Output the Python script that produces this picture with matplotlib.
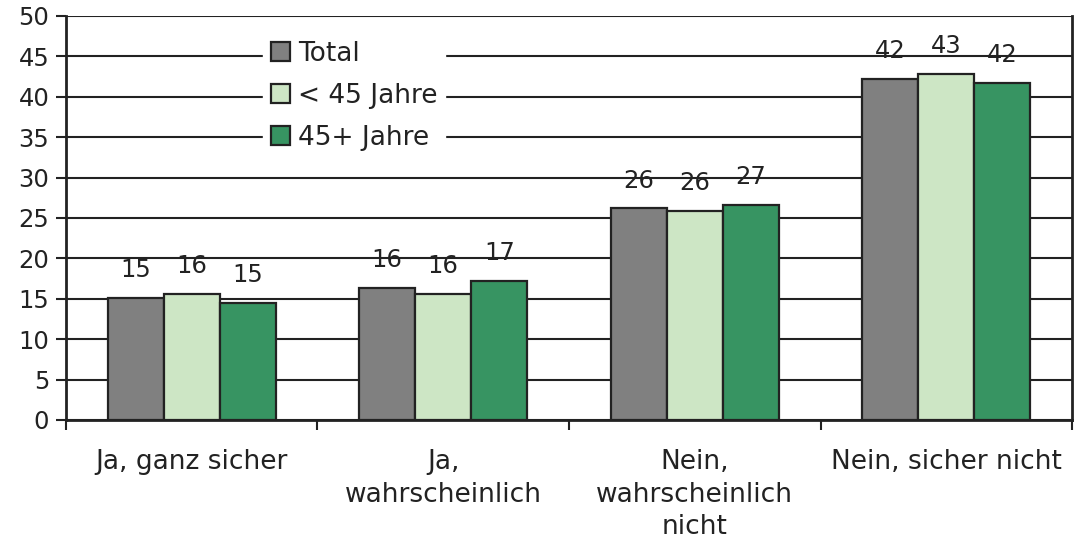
import matplotlib.pyplot as plt
import numpy as np

categories = ['Ja, ganz sicher', 'Ja,\nwahrscheinlich', 'Nein,\nwahrscheinlich\nnicht', 'Nein, sicher nicht']
series = ['Total', '< 45 Jahre', '45+ Jahre']
total = [15.1, 16.3, 26.2, 42.2]
young = [15.6, 15.6, 25.9, 42.8]
older = [14.5, 17.2, 26.6, 41.7]
labels_total = ['15', '16', '26', '42']
labels_young = ['16', '16', '26', '43']
labels_older = ['15', '17', '27', '42']
colors = ['#808080', '#cde6c5', '#379462']

plt.rcParams['font.family'] = 'DejaVu Sans'
fig = plt.figure(figsize=(10.76, 5.44), dpi=100)
ax = fig.add_axes([0.0613, 0.228, 0.935, 0.7426])

fs = 17.5   # digits
fs_txt = 19  # words
x = np.arange(len(categories))
w = 0.223
data = [total, young, older]
texts = [labels_total, labels_young, labels_older]
for i, (vals, lab) in enumerate(zip(data, texts)):
    pos = x + (i - 1) * w
    bars = ax.bar(pos, vals, w, color=colors[i], edgecolor='#222222', linewidth=1.6,
                  label=series[i], zorder=3)
    for b, t in zip(bars, lab):
        ax.annotate(t, (b.get_x() + b.get_width() / 2, b.get_height()),
                    xytext=(0, 20), textcoords='offset points', ha='center', va='center',
                    fontsize=fs, color='#222222', zorder=4)

ax.set_xlim(-0.5, 3.5)
ax.set_ylim(0, 50)
ax.set_yticks(np.arange(0, 51, 5))
ax.yaxis.grid(True, color='#222222', linewidth=1.5, zorder=0)
ax.set_axisbelow(True)
ax.set_xticks(np.arange(-0.5, 4, 1))
ax.set_xticklabels([])
ax.set_xticks(x, minor=True)
ax.set_xticklabels(categories, minor=True, fontsize=fs_txt, color='#222222', linespacing=1.32)
ax.tick_params(axis='x', which='minor', length=0, pad=21)
ax.tick_params(axis='x', which='major', length=7, width=1.5, color='#222222')
ax.tick_params(axis='y', length=7, width=1.5, color='#222222', labelsize=fs, labelcolor='#222222', pad=5)
for s in ['left', 'right', 'bottom']:
    ax.spines[s].set_color('#222222')
    ax.spines[s].set_linewidth(2)
ax.spines['top'].set_visible(False)

leg = ax.legend(loc='upper left', bbox_to_anchor=(0.196, 0.958), frameon=True, fontsize=fs_txt,
                handlelength=0.72, handleheight=0.72, handletextpad=0.3, labelspacing=0.6,
                borderpad=0.3, borderaxespad=0, fancybox=False)
leg.get_frame().set_facecolor('white')
leg.get_frame().set_edgecolor('white')
leg.get_frame().set_alpha(1)
leg.set_zorder(5)
for t in leg.get_texts():
    t.set_color('#222222')

plt.savefig('out.png', dpi=100)
